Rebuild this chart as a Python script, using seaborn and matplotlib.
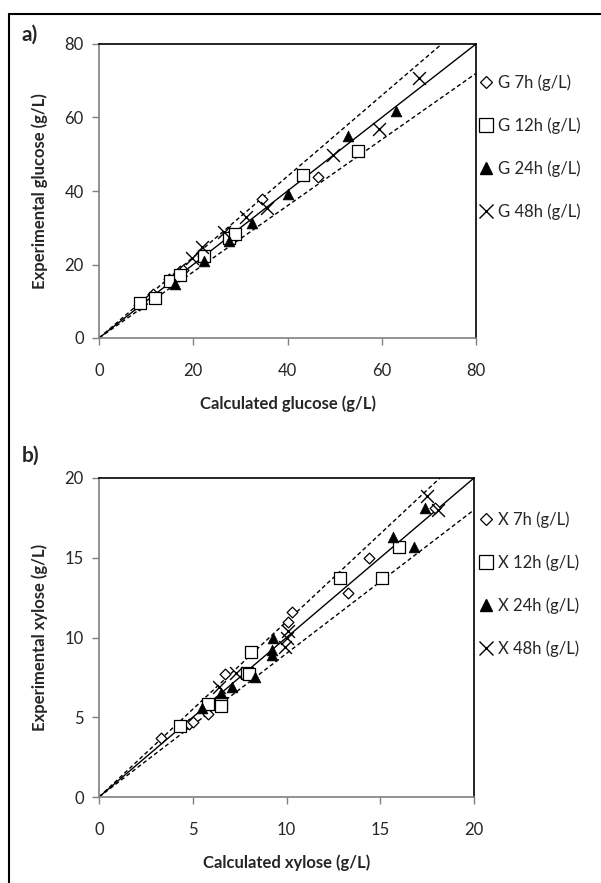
import matplotlib
matplotlib.use("Agg")
import matplotlib.pyplot as plt
from matplotlib.lines import Line2D
import numpy as np
import pandas as pd
import seaborn as sns

# ---------------- data ----------------
g_labels = ["G 7h (g/L)", "G 12h (g/L)", "G 24h (g/L)", "G 48h (g/L)"]
x_labels = ["X 7h (g/L)", "X 12h (g/L)", "X 24h (g/L)", "X 48h (g/L)"]

G7_calc = [8.5, 11.5, 14.8, 17.2, 17.9, 22.0, 27.5, 34.6, 46.4]
G7_exp = [9.0, 12.0, 16.0, 18.1, 18.5, 22.3, 27.8, 37.8, 43.9]
G12_calc = [8.7, 11.9, 15.1, 17.2, 22.2, 27.5, 28.9, 43.3, 55.0]
G12_exp = [9.4, 10.8, 15.6, 17.2, 22.2, 27.2, 28.4, 44.3, 50.8]
G24_calc = [16.2, 22.2, 27.5, 32.5, 40.0, 52.9, 63.1]
G24_exp = [14.7, 20.9, 26.3, 31.3, 39.2, 54.9, 61.9]
G48_calc = [19.7, 21.8, 26.5, 31.1, 35.7, 49.7, 59.4, 67.9]
G48_exp = [21.8, 24.7, 28.8, 33.0, 35.5, 49.8, 57.0, 70.8]

X7_calc = [3.3, 4.8, 5.0, 5.8, 6.7, 10.1, 10.3, 13.3, 14.4, 17.9]
X7_exp = [3.7, 4.6, 4.7, 5.2, 7.7, 11.0, 11.6, 12.8, 15.0, 18.1]
X12_calc = [4.3, 5.8, 6.5, 6.5, 7.9, 8.0, 8.1, 12.85, 15.1, 16.0]
X12_exp = [4.45, 5.8, 5.9, 5.7, 7.8, 7.7, 9.1, 13.7, 13.7, 15.7]
X24_calc = [5.5, 6.5, 7.1, 8.3, 9.2, 9.2, 9.3, 15.7, 16.8, 17.4]
X24_exp = [5.6, 6.5, 6.9, 7.5, 8.9, 9.2, 10.0, 16.3, 15.7, 18.1]
X48_calc = [6.4, 7.3, 9.9, 10.0, 10.1, 17.5, 18.1]
X48_exp = [6.9, 7.8, 9.4, 10.0, 10.4, 18.9, 18.0]

g_ticks = [0, 20, 40, 60, 80]
x_ticks = [0, 5, 10, 15, 20]

# ---------------- style ----------------
sns.set_theme(style="white")
plt.rcParams["font.family"] = ["Lato", "DejaVu Sans"]

W, H = 601, 883
fig = plt.figure(figsize=(W / 100, H / 100), dpi=100)

def frac(l, t, r, b):
    return [l / W, 1 - b / H, (r - l) / W, (b - t) / H]

ax_a = fig.add_axes(frac(99, 44, 476, 338))
ax_b = fig.add_axes(frac(99, 478, 474, 797))

styles = [
    dict(marker="D", s=30, facecolors="white", edgecolors="black", linewidths=0.9),
    dict(marker="s", s=70, facecolors="white", edgecolors="black", linewidths=0.9),
    dict(marker="^", s=60, facecolors="black", edgecolors="black", linewidths=0.5),
    dict(marker="x", s=85, color="black", linewidths=1.0),
]
leg_kw = [
    dict(marker="D", markersize=6, markerfacecolor="white", markeredgecolor="black", markeredgewidth=0.9),
    dict(marker="s", markersize=10, markerfacecolor="white", markeredgecolor="black", markeredgewidth=0.9),
    dict(marker="^", markersize=9, markerfacecolor="black", markeredgecolor="black"),
    dict(marker="x", markersize=10, color="black", markeredgewidth=1.0),
]

def panel(ax, calcs, exps, labels, lim, ticks, xlabel, ylabel, leg_top):
    # reference lines
    xs = np.array([0, lim])
    ax.plot(xs, xs, color="black", lw=1.0, zorder=1)
    ax.plot(xs, 1.1 * xs, color="black", lw=1.0, ls=(0, (3, 2)), zorder=1)
    ax.plot(xs, 0.9 * xs, color="black", lw=1.0, ls=(0, (3, 2)), zorder=1)
    for cx, ey, st in zip(calcs, exps, styles):
        df = pd.DataFrame({"calc": cx, "exp": ey})
        sns.scatterplot(data=df, x="calc", y="exp", ax=ax, legend=False, zorder=3, **st)
    ax.set_xlim(0, lim)
    ax.set_ylim(0, lim)
    ax.set_xticks(ticks)
    ax.set_yticks(ticks)
    ax.tick_params(axis="both", which="both", direction="out", length=5, width=1,
                   color="#808080", labelsize=12, bottom=True, left=True)
    ax.tick_params(axis="x", pad=13)
    ax.tick_params(axis="y", pad=6)
    for s in ["left", "bottom"]:
        ax.spines[s].set_color("#808080")
        ax.spines[s].set_linewidth(1.2)
    for s in ["top", "right"]:
        ax.spines[s].set_color("black")
        ax.spines[s].set_linewidth(1.2)
    ax.set_xlabel(xlabel, fontsize=12, fontweight="bold", labelpad=12)
    ax.set_ylabel(ylabel, fontsize=12, fontweight="bold", labelpad=12)
    handles = [Line2D([], [], ls="none", **k) for k in leg_kw]
    fig.legend(handles, labels, loc="upper left", frameon=False,
               bbox_to_anchor=(478 / W, 1 - leg_top / H), fontsize=12,
               labelspacing=1.6, handletextpad=0.2, handlelength=1.0,
               borderaxespad=0, borderpad=0)

panel(ax_a, [G7_calc, G12_calc, G24_calc, G48_calc],
      [G7_exp, G12_exp, G24_exp, G48_exp], g_labels, 80, g_ticks,
      "Calculated glucose (g/L)", "Experimental glucose (g/L)", 74)
panel(ax_b, [X7_calc, X12_calc, X24_calc, X48_calc],
      [X7_exp, X12_exp, X24_exp, X48_exp], x_labels, 20, x_ticks,
      "Calculated xylose (g/L)", "Experimental xylose (g/L)", 511)

fig.text(22 / W, 1 - 35 / H, "a)", fontsize=15, fontweight="bold", va="center", ha="left")
fig.text(22 / W, 1 - 456 / H, "b)", fontsize=15, fontweight="bold", va="center", ha="left")

# outer frame (top and left edges visible)
fig.add_artist(Line2D([9 / W, 1.0], [1 - 14 / H, 1 - 14 / H], color="black", lw=1.5,
                      transform=fig.transFigure))
fig.add_artist(Line2D([9 / W, 9 / W], [1 - 14 / H, 0.0], color="black", lw=1.5,
                      transform=fig.transFigure))

fig.savefig("out.png", dpi=100)
